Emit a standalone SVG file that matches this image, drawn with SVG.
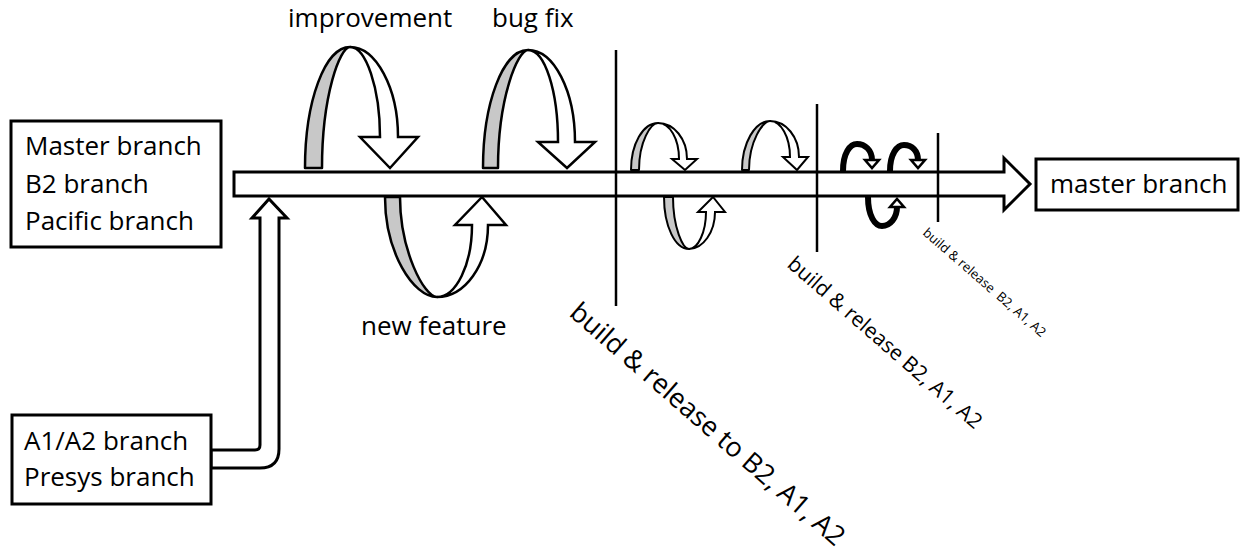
<svg xmlns="http://www.w3.org/2000/svg" width="1241" height="556" viewBox="0 0 1241 556">
<style>
.box{fill:#fff;stroke:#000;stroke-width:3}
.t{font-family:"Open Sans","Noto Sans",sans-serif;fill:#000}
.lbl{font-size:26px}
.bar{fill:#fff;stroke:#000;stroke-width:3;stroke-linejoin:miter}
.gray{fill:#c8c8c8;stroke:#000;stroke-width:2.5;stroke-linejoin:round}
.wht{fill:#fff;stroke:#000;stroke-width:2.5;stroke-linejoin:miter}
.sm{stroke-width:2}
.blk{fill:none;stroke:#000;stroke-width:6;stroke-linecap:butt}
.head{fill:#fff;stroke:#000;stroke-width:2.5;stroke-linejoin:miter}
.vl{stroke:#000;stroke-width:2.5;fill:none}
</style>
<rect width="1241" height="556" fill="#fff"/>
<g id="connectors">
  <path id="main-arrow" class="bar" d="M234,172 L1004,172 L1004,158 L1030,184 L1004,210 L1004,196 L234,196 Z"/>
  <path id="merge-arrow" class="bar" d="M211,450 L255,450 Q260,450 260,445 L260,218 L252,218 L269,199 L287,218 L279,218 L279,449 Q279,468 260,468 L211,468 Z"/>
  <g id="improvement-arrow">
    <path class="gray" d="M305,168 C305,101 325,47 350,47 C340,47 322,95 322,168 Z"/>
    <path class="wht" d="M350,47 C376,47 398,88 398,137 L418,137 L390,168 L360,137 L380,137 C380,88 366,47 350,47 Z"/>
  </g>
  <g id="bugfix-arrow">
    <path class="gray" d="M483,168 C483,103 503,50 528,50 C518,50 498,97 498,168 Z"/>
    <path class="wht" d="M528,50 C554,50 575,91 575,142 L595,142 L567,168 L538,142 L558,142 C558,91 545,50 528,50 Z"/>
  </g>
  <g id="newfeature-arrow">
    <path class="gray" d="M385,197 C385,252 413,297 437,297 C424,297 400,250 400,197 Z"/>
    <path class="wht" d="M437,297 C465,297 488,265 488,225 L506,225 L482,197 L455,225 L472,225 C472,265 456,297 437,297 Z"/>
  </g>
  <g id="small-arrow-a">
    <path class="gray sm" d="M631,170 C631,144 643,123 658,123 C651,123 639,141 639,170 Z"/>
    <path class="wht sm" d="M658,123 C674,123 687,139 687,159 L697,159 L685,170 L672,159 L679,159 C679,139 670,123 658,123 Z"/>
  </g>
  <g id="small-arrow-b">
    <path class="gray sm" d="M742,170 C742,143 755,121 770,121 C763,121 749,141 749,170 Z"/>
    <path class="wht sm" d="M770,121 C786,121 799,137 799,157 L808,157 L797,170 L783,157 L790,157 C790,137 781,121 770,121 Z"/>
  </g>
  <g id="small-arrow-c">
    <path class="gray sm" d="M664,197 C664,226 675,249 689,249 C683,249 673,228 673,197 Z"/>
    <path class="wht sm" d="M689,249 C703,249 715,232 715,212 L725,212 L713,197 L698,212 L706,212 C706,232 698,249 689,249 Z"/>
  </g>
  <g id="tiny-arrow-d">
    <path class="blk" d="M843,171 C843,153 850,144 857,144 C865,144 872,150 872,160"/>
    <path class="head" d="M865,160 L879,160 L872,168 Z"/>
  </g>
  <g id="tiny-arrow-e">
    <path class="blk" d="M890,171 C890,154 897,145 904,145 C912,145 918,151 918,160"/>
    <path class="head" d="M911,160 L925,160 L918,168 Z"/>
  </g>
  <g id="tiny-arrow-f">
    <path class="blk" d="M868,197 C868,216 875,226 882,226 C890,226 897,218 897,207"/>
    <path class="head" d="M890,207 L904,207 L897,199 Z"/>
  </g>
  <line class="vl" x1="616" y1="50" x2="616" y2="306"/>
  <line class="vl" x1="817" y1="104" x2="817" y2="252"/>
  <line class="vl" x1="938" y1="133" x2="938" y2="222"/>
</g>
<g id="node-source-branches">
  <rect class="box" x="11" y="121" width="210" height="126"/>
  <text class="t lbl" x="25" y="155">Master branch</text>
  <text class="t lbl" x="25" y="193">B2 branch</text>
  <text class="t lbl" x="25" y="230">Pacific branch</text>
</g>
<g id="node-a1a2-branches">
  <rect class="box" x="12" y="415" width="199" height="89"/>
  <text class="t lbl" x="24" y="450">A1/A2 branch</text>
  <text class="t lbl" x="24" y="486">Presys branch</text>
</g>
<g id="node-master-branch">
  <rect class="box" x="1036" y="159" width="202" height="51"/>
  <text class="t lbl" x="1050" y="193">master branch</text>
</g>
<g id="labels">
  <text class="t lbl" x="288" y="27">improvement</text>
  <text class="t lbl" x="492" y="27">bug fix</text>
  <text class="t lbl" x="361" y="335">new feature</text>
  <text class="t" font-size="27" transform="translate(568,315) rotate(41)">build &amp; release to B2, A1, A2</text>
  <text class="t" font-size="21" transform="translate(786,266) rotate(41)">build &amp; release B2, A1, A2</text>
  <text class="t" font-size="13" xml:space="preserve" transform="translate(922,234) rotate(41)">build &amp; release  B2, A1, A2</text>
</g>
</svg>
